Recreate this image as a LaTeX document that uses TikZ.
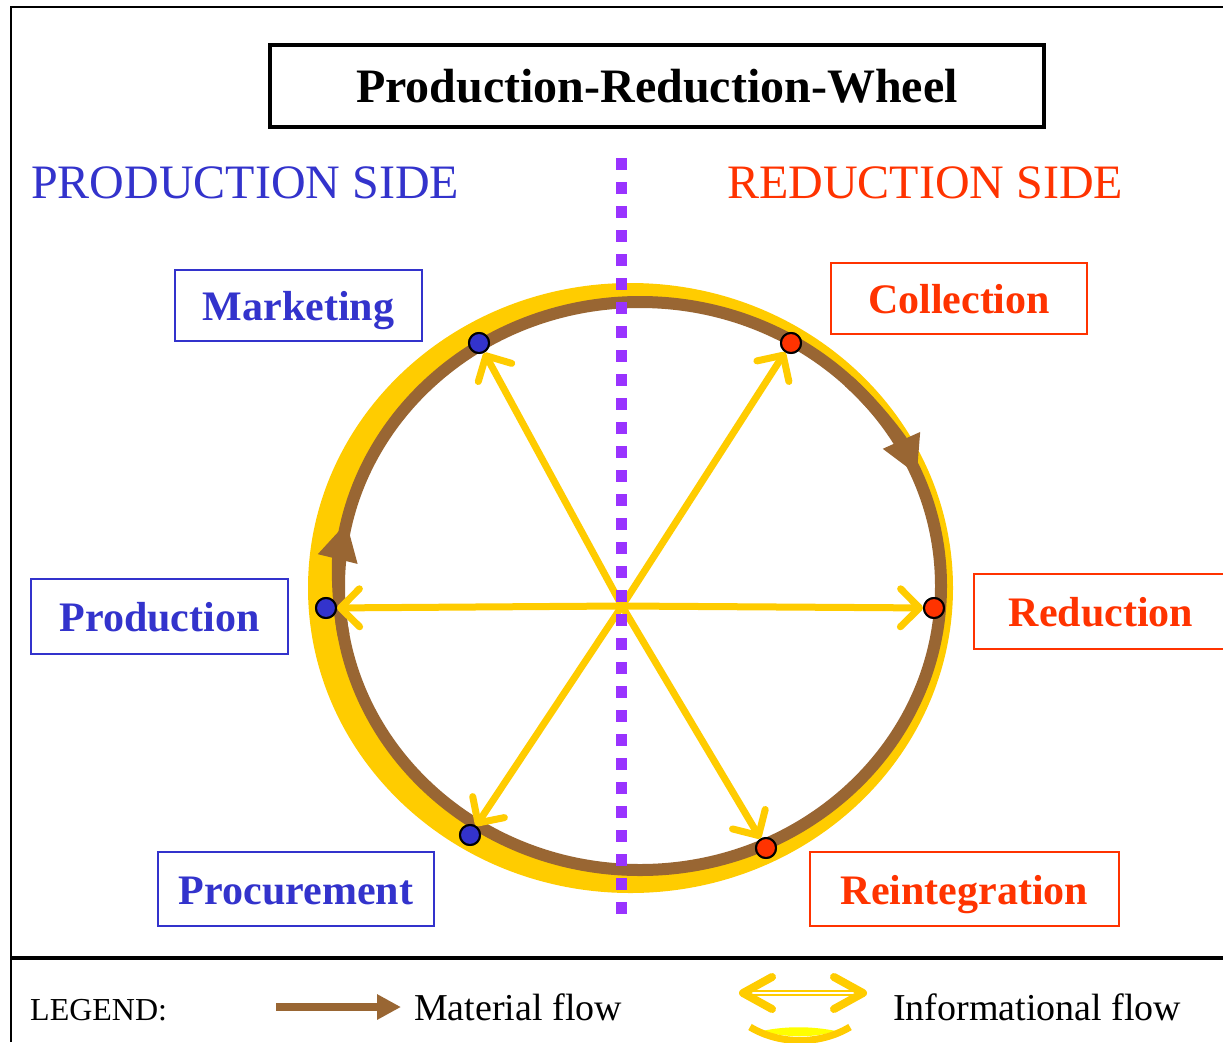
\documentclass[tikz,border=0pt]{standalone}
\usepackage{fontspec}
\setmainfont{Liberation Serif}
\usetikzlibrary{arrows.meta}
\definecolor{pblue}{HTML}{3333CC}
\definecolor{pred}{HTML}{FF3300}
\definecolor{pyellow}{HTML}{FFCC00}
\definecolor{pbrown}{HTML}{996633}
\definecolor{ppurple}{HTML}{9933FF}
\definecolor{pbright}{HTML}{FFFF00}
\begin{document}
\begin{tikzpicture}[x=1pt,y=-1pt,
  box/.style={draw, line width=2pt, font=\fontsize{42}{42}\selectfont\bfseries,
    inner sep=0pt, text height=30pt, text depth=0pt},
  bluebox/.style={box, draw=pblue, text=pblue},
  redbox/.style={box, draw=pred, text=pred},
  dotnode/.style={circle, draw=black, line width=2pt, minimum size=20pt, inner sep=0pt},
  info/.style={draw=pyellow, line width=7pt, line cap=round,
    -{Straight Barb[length=19pt, width=38pt, round]}},
  matarrow/.style={draw=pbrown, line width=12pt, -{Triangle[length=38pt, width=38pt]}},
  sidelabel/.style={anchor=base west, inner sep=0pt, font=\fontsize{48}{48}\selectfont},
  legendtext/.style={anchor=base west, inner sep=0pt, font=\fontsize{38}{38}\selectfont},
]
\useasboundingbox (0,0) rectangle (1223,1042);
\fill[white] (0,0) rectangle (1223,1042);

% frame
\draw[line width=2pt] (11,1042) -- (11,7) -- (1223,7);
\draw[line width=3.5pt] (11,958) -- (1223,958);

% title
\node[draw, line width=4.5pt, minimum width=774pt, minimum height=82pt, inner sep=0pt,
  font=\fontsize{48}{48}\selectfont\bfseries, text height=33pt, text depth=0pt]
  (title) at (657,86) {Production-Reduction-Wheel};

% side labels
\node[sidelabel, text=pblue] (prodside) at (31,198) {PRODUCTION SIDE};
\node[sidelabel, text=pred] (redside) at (727,198) {REDUCTION SIDE};

% wheel: yellow band and brown ring
\fill[pyellow, even odd rule] (630.5,588) ellipse [x radius=322.5, y radius=305]
  (640,586) ellipse [x radius=301, y radius=284];
\draw[pbrown, line width=12pt] (640,586) ellipse [x radius=301, y radius=284];
\draw[matarrow] (640,586) ++ ({301*cos(-46)},{284*sin(-46)})
  arc[start angle=-46, end angle=-23, x radius=301, y radius=284];
\draw[matarrow] (640,586) ++ ({301*cos(170)},{284*sin(170)})
  arc[start angle=170, end angle=193, x radius=301, y radius=284];

% hub and points
\coordinate (hub) at (622,606);
\node[dotnode, fill=pblue] (mk) at (479,343) {};
\node[dotnode, fill=pred] (co) at (791,343) {};
\node[dotnode, fill=pblue] (pr) at (326,608) {};
\node[dotnode, fill=pred] (re) at (934,608) {};
\node[dotnode, fill=pblue] (pc) at (470,835) {};
\node[dotnode, fill=pred] (ri) at (766,848) {};

% informational arrows
\foreach \t in {mk,co,pr,re,pc,ri} {
  \draw[info] (hub) -- (\t);
}
% redraw dots on top
\node[dotnode, fill=pblue] at (mk) {};
\node[dotnode, fill=pred] at (co) {};
\node[dotnode, fill=pblue] at (pr) {};
\node[dotnode, fill=pred] at (re) {};
\node[dotnode, fill=pblue] at (pc) {};
\node[dotnode, fill=pred] at (ri) {};

% divider
\coordinate (divtop) at (621,158);
\coordinate (divbot) at (621,914);
\draw[ppurple, line width=11pt, dash pattern=on 12pt off 12pt] (divtop) -- (divbot);

% boxes
\node[bluebox, minimum width=247pt, minimum height=71pt] (bmk) at (298.5,305.5) {Marketing};
\node[redbox, minimum width=256pt, minimum height=71pt] (bco) at (959,298.5) {Collection};
\node[bluebox, minimum width=257pt, minimum height=75pt] (bpr) at (159.5,616.5) {Production};
\node[redbox, minimum width=254pt, minimum height=75pt] (bre) at (1101,611.5) {Reduction};
\node[bluebox, minimum width=276pt, minimum height=74pt] (bpc) at (296,889) {Procurement};
\node[redbox, minimum width=309pt, minimum height=74pt] (bri) at (964.5,889) {Reintegration};

% legend
\node[anchor=base west, inner sep=0pt, font=\fontsize{32}{32}\selectfont] (leg) at (30,1020) {LEGEND:};
\coordinate (ma) at (276,1007);
\coordinate (mb) at (401,1007);
\draw[draw=pbrown, line width=8pt, -{Triangle[length=24pt, width=24pt]}] (ma) -- (mb);
\node[legendtext] (matl) at (414,1020) {Material flow};

\coordinate (ia) at (748,993);
\coordinate (ib) at (858,993);
\draw[pyellow, line width=2.5pt, double=white, double distance=1.6pt] (ia) -- (ib);
\draw[pyellow, line width=8pt, line cap=round, line join=round]
  (772,977) -- (743,993) -- (772,1009);
\draw[pyellow, line width=8pt, line cap=round, line join=round]
  (834,977) -- (863,993) -- (834,1009);
\fill[pbright] (762,1031) .. controls (785,1026) and (812,1026) .. (836,1031)
  .. controls (815,1038) and (785,1038) .. (762,1031) -- cycle;
\draw[pyellow, line width=7pt] (750,1027) .. controls (780,1045) and (820,1045) .. (850,1027);
\node[legendtext] (infl) at (893,1020) {Informational flow};
\end{tikzpicture}
\end{document}
